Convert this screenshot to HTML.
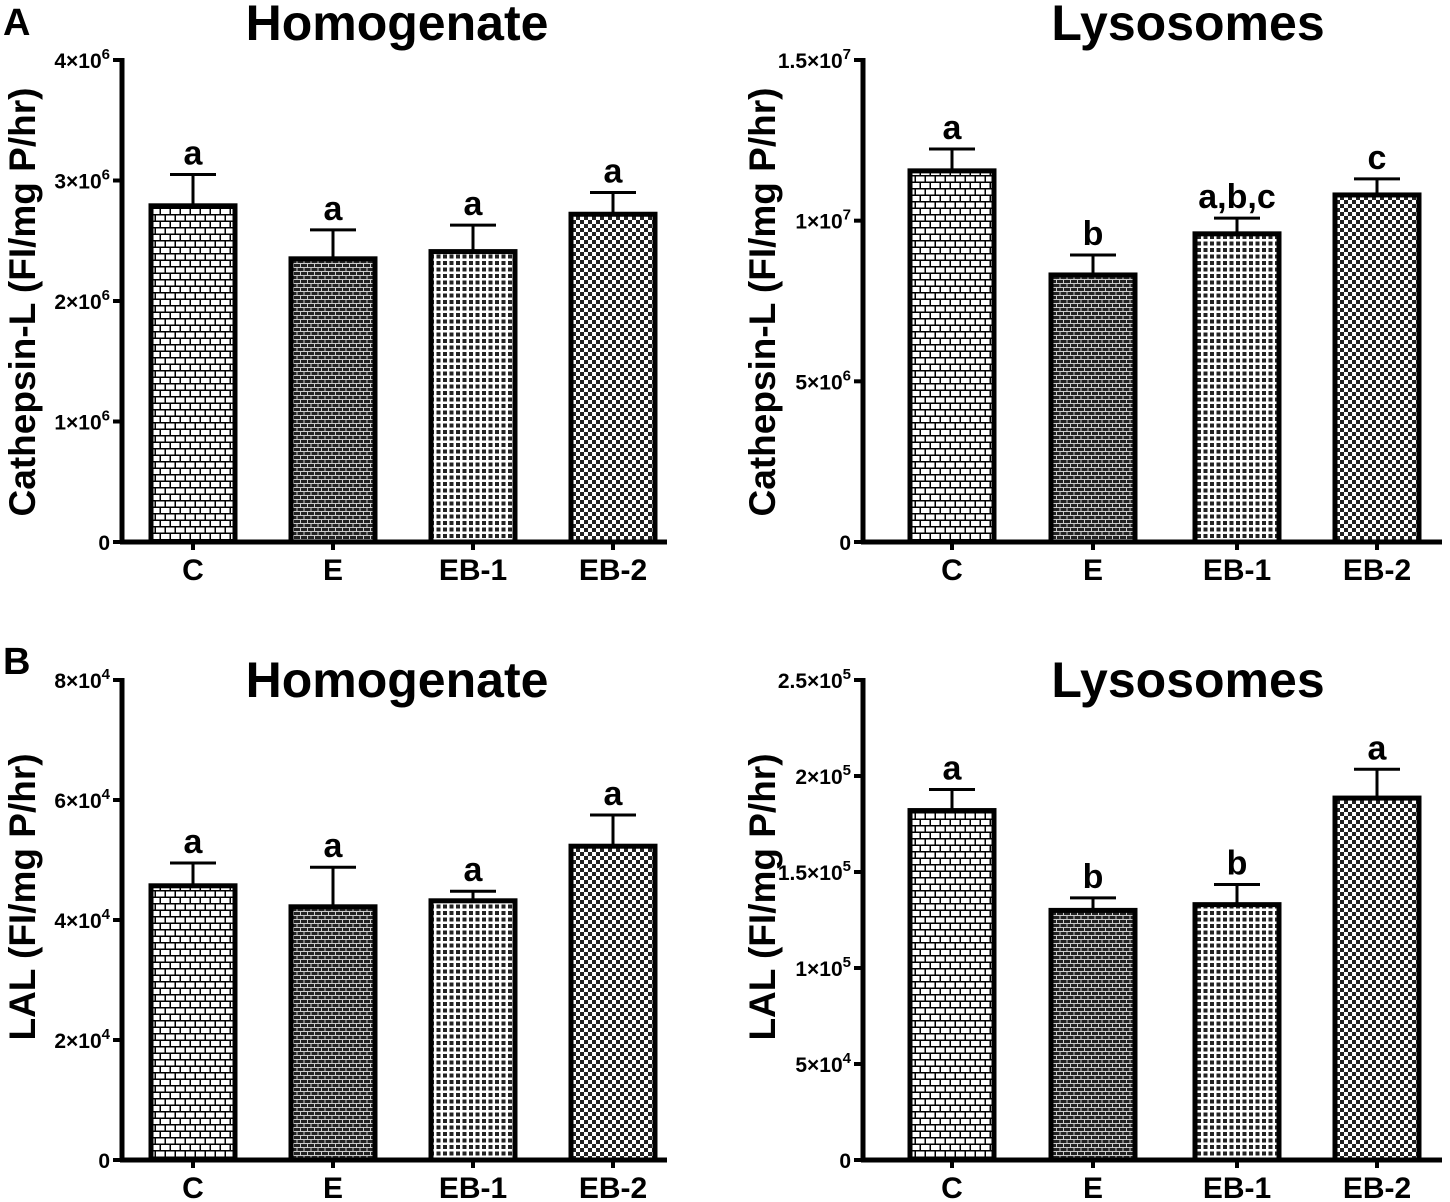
<!DOCTYPE html>
<html><head><meta charset="utf-8"><style>
body{margin:0;background:#fff}
svg{display:block;font-family:"Liberation Sans",Arial,sans-serif;font-weight:bold}
</style></head><body>
<svg id="fig" width="1450" height="1202" viewBox="0 0 1450 1202" xmlns="http://www.w3.org/2000/svg">
<defs>
<pattern id="pC" width="20" height="13" patternUnits="userSpaceOnUse">
<rect width="20" height="13" fill="#000"/>
<rect x="1" y="1" width="8.5" height="5" fill="#fff"/><rect x="11" y="1" width="8.5" height="5" fill="#fff"/>
<rect x="-4" y="7.5" width="8.5" height="5" fill="#fff"/><rect x="6" y="7.5" width="8.5" height="5" fill="#fff"/><rect x="16" y="7.5" width="8.5" height="5" fill="#fff"/>
</pattern>
<pattern id="pE" width="14" height="8" patternUnits="userSpaceOnUse">
<rect width="14" height="8" fill="#ccc"/>
<rect x="0" y="0" width="6" height="3" fill="#222"/><rect x="7" y="0" width="6" height="3" fill="#222"/>
<rect x="-3.5" y="4" width="6" height="3" fill="#222"/><rect x="3.5" y="4" width="6" height="3" fill="#222"/><rect x="10.5" y="4" width="6" height="3" fill="#222"/>
</pattern>
<pattern id="pB1" width="6.5" height="6.5" patternUnits="userSpaceOnUse">
<rect width="6.5" height="6.5" fill="#fff"/><rect x="1" y="1" width="4" height="4" fill="#222"/>
</pattern>
<pattern id="pB2" width="8" height="8" patternUnits="userSpaceOnUse">
<rect width="8" height="8" fill="#fff"/><rect width="4" height="4" fill="#222"/><rect x="4" y="4" width="4" height="4" fill="#222"/>
</pattern>
</defs>
<text x="3" y="35" font-size="38">A</text>
<text x="3" y="674" font-size="38">B</text>
</svg>
<script>
const categories = ["C","E","EB-1","EB-2"];
const homCathMean = [2.79e6,2.35e6,2.41e6,2.72e6];
const homCathErr  = [3.05e6,2.59e6,2.63e6,2.90e6];
const homCathLetters = ["a","a","a","a"];
const lysCathMean = [11.55e6,8.31e6,9.59e6,10.80e6];
const lysCathErr  = [12.23e6,8.93e6,10.08e6,11.30e6];
const lysCathLetters = ["a","b","a,b,c","c"];
const homLalMean = [4.57e4,4.22e4,4.32e4,5.23e4];
const homLalErr  = [4.95e4,4.88e4,4.48e4,5.75e4];
const homLalLetters = ["a","a","a","a"];
const lysLalMean = [1.82e5,1.30e5,1.33e5,1.885e5];
const lysLalErr  = [1.93e5,1.365e5,1.435e5,2.035e5];
const lysLalLetters = ["a","b","b","a"];
const tickA1 = [[0,"0"],[1e6,"1×10","6"],[2e6,"2×10","6"],[3e6,"3×10","6"],[4e6,"4×10","6"]];
const tickA2 = [[0,"0"],[5e6,"5×10","6"],[1e7,"1×10","7"],[1.5e7,"1.5×10","7"]];
const tickB1 = [[0,"0"],[2e4,"2×10","4"],[4e4,"4×10","4"],[6e4,"6×10","4"],[8e4,"8×10","4"]];
const tickB2 = [[0,"0"],[5e4,"5×10","4"],[1e5,"1×10","5"],[1.5e5,"1.5×10","5"],[2e5,"2×10","5"],[2.5e5,"2.5×10","5"]];
const fills = ["url(#pC)","url(#pE)","url(#pB1)","url(#pB2)"];
const svg = document.getElementById('fig');
const NS = "http://www.w3.org/2000/svg";
function el(tag, attrs, parent){const e=document.createElementNS(NS,tag);for(const k in attrs)e.setAttribute(k,attrs[k]);(parent||svg).appendChild(e);return e;}
function panel(id,ax,top,bot,xEnd,xs,max,ticks,mean,err,letters,title,tcx,tby,ytitle,ytx,ytcy){
  const g=el('g',{});
  
  
  const y=v=>bot-(v/max)*(bot-top);
  const t=el('text',{x:tcx,y:tby,'font-size':50,'text-anchor':'middle'},g);t.textContent=title;
  
  
  const yt=el('text',{x:ytx,y:ytcy,'font-size':37,'text-anchor':'middle',transform:`rotate(-90 ${ytx} ${ytcy})`},g);yt.textContent=ytitle;
  
  
  ticks.forEach(tk=>{
    const ty=y(tk[0]);
    el('line',{x1:ax-9,x2:ax,y1:ty,y2:ty,stroke:'#000','stroke-width':4},g);
    const tx=el('text',{x:ax-12,y:ty+8,'font-size':21,'text-anchor':'end'},g);
    
    
    if(tk[2]){tx.textContent=tk[1];const s=el('tspan',{dy:-9,'font-size':15},tx);s.textContent=tk[2];}
    else tx.textContent=tk[1];
  });
  categories.forEach((c,i)=>{
    const cx=xs[i],w=84,yt2=y(mean[i]),ye=y(err[i]);
    el('line',{x1:cx,x2:cx,y1:ye,y2:yt2,stroke:'#000','stroke-width':3},g);
    el('line',{x1:cx-23,x2:cx+23,y1:ye,y2:ye,stroke:'#000','stroke-width':3},g);
    const b=el('rect',{x:cx-w/2,y:yt2,width:w,height:bot-yt2,fill:fills[i],stroke:'#000','stroke-width':5},g);
    
    
    const l=el('text',{x:cx,y:ye-10,'font-size':34,'text-anchor':'middle'},g);l.textContent=letters[i];
    
    
    el('line',{x1:cx,x2:cx,y1:bot,y2:bot+8,stroke:'#000','stroke-width':4},g);
    const xl=el('text',{x:cx,y:bot+38,'font-size':30,'text-anchor':'middle'},g);xl.textContent=c;
    
    
  });
  el('line',{x1:ax,x2:ax,y1:top-2,y2:bot+2,stroke:'#000','stroke-width':5},g);
  el('line',{x1:ax-2,x2:xEnd,y1:bot,y2:bot,stroke:'#000','stroke-width':5},g);
}
const xsL=[193,333,473,613], xsR=[952,1093,1237,1377];
panel('homogenate-cathepsin-chart',122,60,542,667,xsL,4e6,tickA1,homCathMean,homCathErr,homCathLetters,'Homogenate',397,40,'Cathepsin-L (FI/mg P/hr)',35,302);
panel('lysosomes-cathepsin-chart',863,60,542,1442,xsR,1.5e7,tickA2,lysCathMean,lysCathErr,lysCathLetters,'Lysosomes',1188,40,'Cathepsin-L (FI/mg P/hr)',775,302);
panel('homogenate-lal-chart',122,680,1160,667,xsL,8e4,tickB1,homLalMean,homLalErr,homLalLetters,'Homogenate',397,697,'LAL (FI/mg P/hr)',35,897);
panel('lysosomes-lal-chart',863,680,1160,1442,xsR,2.5e5,tickB2,lysLalMean,lysLalErr,lysLalLetters,'Lysosomes',1188,697,'LAL (FI/mg P/hr)',775,897);
</script>
</body></html>
